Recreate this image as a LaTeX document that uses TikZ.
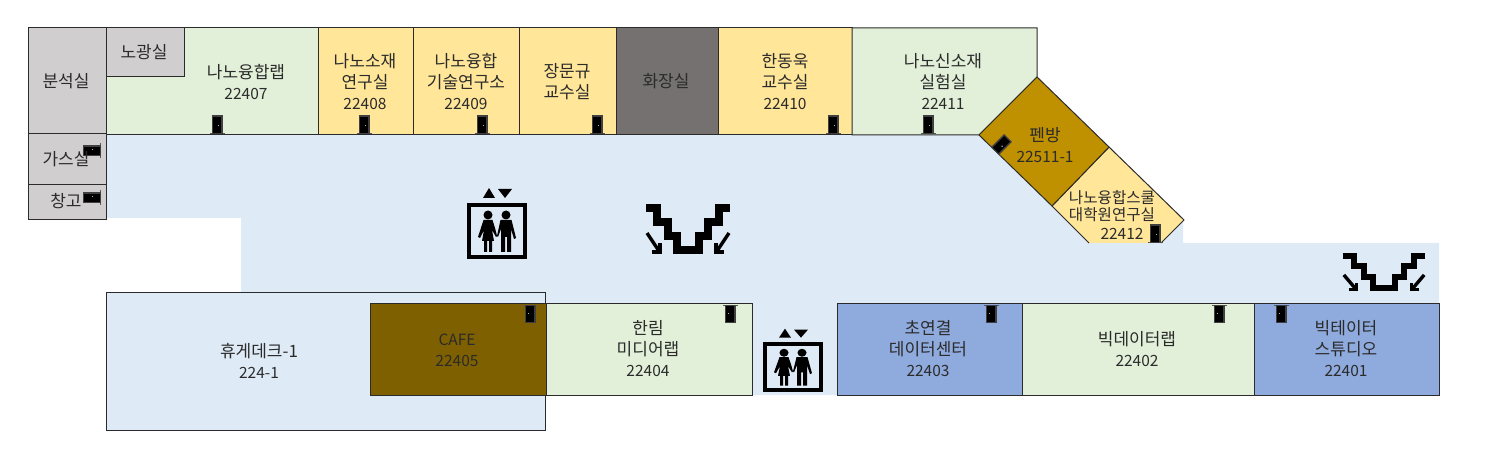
\documentclass[tikz,border=0pt]{standalone}
\usepackage{fontspec}
\setmainfont{Noto Sans CJK KR}
\usepackage{tikz}
\usetikzlibrary{positioning}
\definecolor{hallblue}{HTML}{DEEAF6}
\definecolor{labgreen}{HTML}{E2F0D9}
\definecolor{officeyellow}{HTML}{FFE699}
\definecolor{storegray}{HTML}{D0CECE}
\definecolor{toiletgray}{HTML}{767171}
\definecolor{penbrown}{HTML}{BF9000}
\definecolor{cafebrown}{HTML}{7F6000}
\definecolor{datablue}{HTML}{8FAADC}
\definecolor{inkgray}{HTML}{2B2B2B}
\newcommand{\roomno}[1]{{\fontsize{15.5}{21}\selectfont #1}}
\tikzset{
  room/.style={draw=inkgray,line width=1pt},
  roomtext/.style={align=center,text=inkgray,yshift=-.3pt,font=\fontsize{17}{21}\selectfont},
  smalltext/.style={align=center,text=inkgray,font=\fontsize{15.6}{17.5}\selectfont},
  stairline/.style={line width=7.5pt},
  door/.pic={
    \fill [black!65] (-7.5,-1.2) rectangle (7.5,0);
    \fill [black!75] (-5.5,-18.5) rectangle (5.5,0);
    \fill [black] (-4,-17) rectangle (4,-1);
    \fill [white!70!black] (1,-9) rectangle (2.2,-7.8);
  },
  lift/.pic={
    \draw [line width=4.5pt] (-28,-26) rectangle (28,26);
    \fill (-8,-43) -- (-14,-33) -- (-2,-33) -- cycle;
    \fill (1,-42) -- (15,-42) -- (8,-33) -- cycle;
    % woman
    \fill (-9,-16) circle (4.5);
    \fill (-13.5,-11) -- (-4.5,-11) -- (-2,-3) -- (0,5) -- (-1,6) -- (-5,-1) -- (-3,10) -- (-5,10) -- (-5,21) -- (-8,21) -- (-8,10) -- (-10,10) -- (-10,21) -- (-13,21) -- (-13,10) -- (-15,10) -- (-13,-1) -- (-17,7) -- (-19,6) -- cycle;
    % man
    \fill (9,-16) circle (4.5);
    \fill (3.5,-11) -- (14.5,-11) -- (19,7) -- (17,8) -- (14,-2) -- (14,21) -- (10,21) -- (10,6) -- (8,6) -- (8,21) -- (4,21) -- (4,-2) -- (1,6) -- (0,5) -- cycle;
  },
  stairs/.pic={
    \draw [stairline] (-42,-42) -- (-31,-42) -- (-31,-28) -- (-20,-28) -- (-20,-14) -- (-11,-14) -- (-11,0) -- (11,0) -- (11,-14) -- (20,-14) -- (20,-28) -- (31,-28) -- (31,-42) -- (42,-42);
    \draw [line width=3.4pt] (-41,-17) -- (-29,1);
    \draw [line width=3.4pt] (-36,2) -- (-28,2) -- (-28,-7);
    \draw [line width=3.4pt] (41,-17) -- (29,1);
    \draw [line width=3.4pt] (36,2) -- (28,2) -- (28,-7);
  }
}
\begin{document}
\begin{tikzpicture}[x=1pt,y=-1pt]
  \useasboundingbox (0,0) rectangle (1508,454);

  % corridor
  \fill [hallblue] (106,134) -- (978,134) -- (1183,218) -- (1183,243) -- (1439,243) -- (1439,304) -- (837,304) -- (837,395) -- (752,395) -- (752,304) -- (241,304) -- (241,218) -- (106,218) -- cycle;

  % top row
  \draw [room, fill=storegray] (28,28) rectangle (106,134);
  \draw [room, fill=storegray] (28,134) rectangle (106,185);
  \draw [room, fill=storegray] (28,185) rectangle (106,220);
  \draw [room, fill=labgreen] (106,28) rectangle (318,135);
  \draw [room, fill=storegray] (106,28) rectangle (184,77);
  \draw [room, fill=officeyellow] (318,28) rectangle (413,135);
  \draw [room, fill=officeyellow] (413,28) rectangle (519,135);
  \draw [room, fill=officeyellow] (519,28) rectangle (616,135);
  \draw [room, fill=toiletgray] (616,28) rectangle (718,135);
  \draw [room, fill=officeyellow] (718,28) rectangle (852,135);
  \draw [room, fill=labgreen] (852,28) -- (1037,28) -- (1037,77) -- (979,135) -- (852,135) -- cycle;

  % slanted rooms
  \fill [officeyellow] (1109,147) -- (1184,220) -- (1161,243) -- (1089,243) -- (1052,206) -- cycle;
  \draw [room] (1089,243) -- (1052,206) -- (1109,147) -- (1184,220) -- (1161,243);
  \draw [room, fill=penbrown] (1037,77) -- (1109,147) -- (1052,206) -- (979,135) -- cycle;

  % bottom row
  \draw [room, fill=hallblue] (106,293) rectangle (545,430);
  \draw [room, fill=cafebrown] (370,304) rectangle (546,395);
  \draw [room, fill=labgreen] (546,304) rectangle (752,395);
  \draw [room, fill=datablue] (837,304) rectangle (1022,395);
  \draw [room, fill=labgreen] (1022,304) rectangle (1254,395);
  \draw [room, fill=datablue] (1254,304) rectangle (1439,395);

  % doors
  \pic at (217,134) {door};
  \pic at (364,134) {door};
  \pic at (482,134) {door};
  \pic at (597,134) {door};
  \pic at (833,134) {door};
  \pic at (928,134) {door};
  \pic at (1155,243) {door};
  \pic [rotate=-45] at (995,151) {door};
  \pic [rotate=90] at (101,151) {door};
  \pic [rotate=90] at (101,198) {door};
  \pic [rotate=180] at (530,305) {door};
  \pic [rotate=180] at (730,305) {door};
  \pic [rotate=180] at (991,305) {door};
  \pic [rotate=180] at (1219,305) {door};
  \pic [rotate=180] at (1281,305) {door};

  % lifts and stairs
  \pic at (497,231) {lift};
  \pic [yscale=.89] at (793,367) {lift};
  \pic at (688,250) {stairs};
  \pic [yscale=.77,xscale=.98,stairline/.style={line width=6pt}] at (1384,288) {stairs};

  \node [roomtext] (analysis) at (66,81) {분석실};
  \node [roomtext] (gasroom) at (66,159) {가스실};
  \node [roomtext] (storage) at (66,201) {창고};
  \node [roomtext] (litho) at (144,52) {노광실};
  \node [roomtext] (r22407) at (246,82) {나노융합랩\\\roomno{22407}};
  \node [roomtext] (r22408) at (365,81) {나노소재\\연구실\\\roomno{22408}};
  \node [roomtext] (r22409) at (466,81) {나노융합\\기술연구소\\\roomno{22409}};
  \node [roomtext] (jang) at (567,81) {장문규\\교수실};
  \node [roomtext] (toilet) at (666,81) {화장실};
  \node [roomtext] (r22410) at (785,81) {한동욱\\교수실\\\roomno{22410}};
  \node [roomtext] (r22411) at (943,81) {나노신소재\\실험실\\\roomno{22411}};
  \node [roomtext] (r22511) at (1045,145) {펜방\\\roomno{22511-1}};
  \node [smalltext] (r22412) at (1112,206) {나노융합스쿨\\대학원연구실};
  \node [roomtext] (n22412) at (1122,234) {\roomno{22412}};
  \node [roomtext] (deck) at (259,361) {휴게데크-1\\\roomno{224-1}};
  \node [roomtext] (r22405) at (457,350) {\roomno{CAFE}\\\roomno{22405}};
  \node [roomtext] (r22404) at (648,348) {한림\\미디어랩\\\roomno{22404}};
  \node [roomtext] (r22403) at (928,348) {초연결\\데이터센터\\\roomno{22403}};
  \node [roomtext] (r22402) at (1137,349) {빅데이터랩\\\roomno{22402}};
  \node [roomtext] (r22401) at (1346,348) {빅테이터\\스튜디오\\\roomno{22401}};

\end{tikzpicture}
\end{document}
